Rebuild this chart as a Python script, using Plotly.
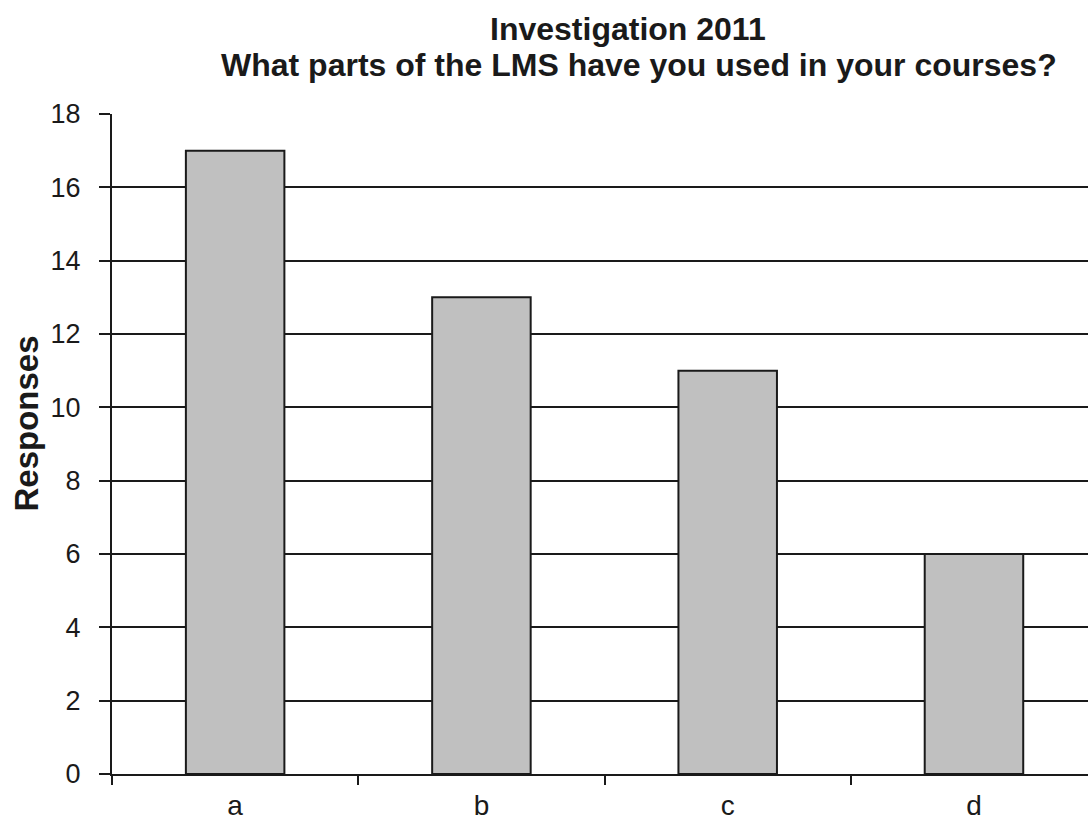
import plotly.graph_objects as go

categories = ["a", "b", "c", "d"]
responses = [17, 13, 11, 6]
y_ticks = [0, 2, 4, 6, 8, 10, 12, 14, 16, 18]
title_lines = ["Investigation 2011", "What parts of the LMS have you used in your courses?"]
y_title = "Responses"

fig = go.Figure()
fig.add_trace(go.Bar(
    x=categories, y=responses,
    marker=dict(color="#c0c0c0", line=dict(color="#1a1a1a", width=2)),
    width=0.4,
))

font_family = "Liberation Sans, Arial, sans-serif"
fig.update_layout(
    width=1088, height=825,
    margin=dict(l=112, r=0, t=114, b=51),
    paper_bgcolor="white", plot_bgcolor="white",
    showlegend=False,
    font=dict(family=font_family, color="#1a1a1a", size=27),
    bargap=0.6,
)
fig.add_annotation(text="<b>%s</b>" % title_lines[0], xref="paper", yref="paper",
                   x=0.5287, y=1, yshift=85, xanchor="center", yanchor="middle",
                   showarrow=False, font=dict(size=32, family=font_family, color="#1a1a1a"))
fig.add_annotation(text="<b>%s</b>" % title_lines[1], xref="paper", yref="paper",
                   x=0.54, y=1, yshift=49, xanchor="center", yanchor="middle",
                   showarrow=False, font=dict(size=32, family=font_family, color="#1a1a1a"))
fig.add_annotation(text="<b>%s</b>" % y_title, xref="paper", yref="paper",
                   x=0, y=0.531, xshift=-85, xanchor="center", yanchor="middle",
                   textangle=-90, showarrow=False,
                   font=dict(size=33, family=font_family, color="#1a1a1a"))
fig.update_xaxes(
    type="category", range=[-0.5, 3.463], automargin=False,
    showline=True, linecolor="#1a1a1a", linewidth=2,
    ticks="outside", tickson="boundaries", ticklen=9, tickwidth=2, tickcolor="#1a1a1a",
    showgrid=False, tickfont=dict(size=28), ticklabelstandoff=5,
)
fig.update_yaxes(
    range=[0, 18], tickvals=y_ticks, ticktext=[str(v) for v in y_ticks],
    automargin=False,
    showline=True, linecolor="#1a1a1a", linewidth=2,
    ticks="outside", ticklen=11, tickwidth=2, tickcolor="#1a1a1a",
    showgrid=True, gridcolor="#1a1a1a", gridwidth=2,
    zeroline=False, tickfont=dict(size=27), ticklabelstandoff=13,
)

fig.write_html("out.html")
